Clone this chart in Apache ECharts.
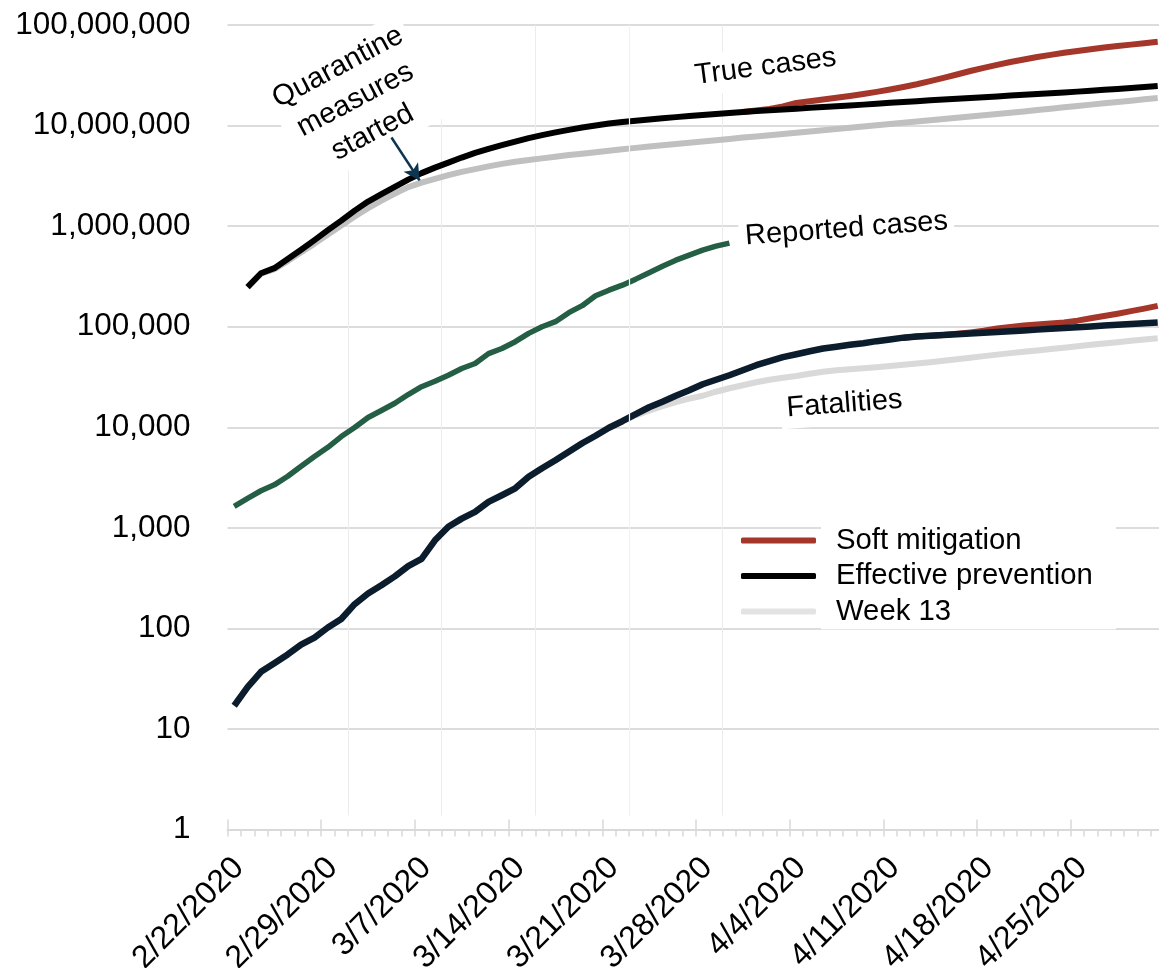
<!DOCTYPE html>
<html>
<head>
<meta charset="utf-8">
<script src="https://cdn.jsdelivr.net/npm/echarts@6/dist/echarts.min.js"></script>
<style>
html,body{margin:0;padding:0;background:#fff;}
#c{width:1159px;height:968px;}
</style>
</head>
<body>
<div id="c"></div>
<script>
// ---------- data ----------
const dates = [
 '2/22/2020','2/23/2020','2/24/2020','2/25/2020','2/26/2020','2/27/2020','2/28/2020','2/29/2020',
 '3/1/2020','3/2/2020','3/3/2020','3/4/2020','3/5/2020','3/6/2020','3/7/2020','3/8/2020','3/9/2020','3/10/2020',
 '3/11/2020','3/12/2020','3/13/2020','3/14/2020','3/15/2020','3/16/2020','3/17/2020','3/18/2020','3/19/2020','3/20/2020',
 '3/21/2020','3/22/2020','3/23/2020','3/24/2020','3/25/2020','3/26/2020','3/27/2020','3/28/2020','3/29/2020','3/30/2020','3/31/2020',
 '4/1/2020','4/2/2020','4/3/2020','4/4/2020','4/5/2020','4/6/2020','4/7/2020','4/8/2020','4/9/2020','4/10/2020',
 '4/11/2020','4/12/2020','4/13/2020','4/14/2020','4/15/2020','4/16/2020','4/17/2020','4/18/2020','4/19/2020','4/20/2020',
 '4/21/2020','4/22/2020','4/23/2020','4/24/2020','4/25/2020','4/26/2020','4/27/2020','4/28/2020','4/29/2020','4/30/2020','5/1/2020'
];
const tickLabels = ['2/22/2020','2/29/2020','3/7/2020','3/14/2020','3/21/2020','3/28/2020','4/4/2020','4/11/2020','4/18/2020','4/25/2020'];

// True cases
const trueEffective = [null,
 247000,340000,382000,470000,583000,726000,913000,1135000,1426000,1753000,
 2080000,2459000,2903000,3367000,3818000,4283000,4806000,5350000,5876000,6397000,
 6932000,7512000,8040000,8554000,9060000,9575000,10000000,10470000,10840000,11190000,
 11500000,11830000,12130000,12440000,12710000,13010000,13310000,13620000,13940000,14200000,
 14460000,14730000,15010000,15290000,15570000,15860000,16150000,16480000,16830000,17130000,
 17450000,17830000,18160000,18500000,18800000,19150000,19500000,19870000,20200000,20580000,
 20960000,21350000,21750000,22200000,22650000,23110000,23580000,24140000,24700000];
const trueSoft = [null,null,null,null,null,null,null,null,null,null,
 null,null,null,null,null,null,null,null,null,null,
 null,null,null,null,null,null,null,null,null,null,
 null,null,null,null,null,null,null,null,13620000,14100000,
 14660000,15530000,16750000,17460000,18140000,18870000,19660000,20580000,21640000,22810000,
 24160000,25770000,27710000,29840000,32170000,34860000,37520000,40170000,42850000,45370000,
 48060000,50500000,52880000,55120000,57460000,59610000,61700000,63830000,65900000,68050000];
const trueWeek13 = [null,
 247000,336000,373000,449000,551000,670000,823000,1012000,1244000,1511000,
 1794000,2106000,2443000,2710000,2957000,3215000,3460000,3690000,3925000,4159000,
 4364000,4537000,4717000,4906000,5085000,5252000,5436000,5627000,5811000,6001000,
 6184000,6372000,6550000,6751000,6955000,7150000,7367000,7590000,7800000,8020000,
 8250000,8480000,8740000,8980000,9250000,9510000,9800000,10070000,10350000,10660000,
 10960000,11290000,11610000,11960000,12300000,12660000,13010000,13410000,13810000,14270000,
 14700000,15180000,15640000,16150000,16630000,17170000,17690000,18270000,18820000];

// Reported cases
const reported = [1637,1966,2336,2677,3254,4090,5114,6322,8080,9930,
 12490,14690,17330,21150,25290,28680,32900,38370,43040,53960,
 60690,70940,85760,99800,112200,137800,161800,203400,230700,258700,
 297000,344600,399700,458900,514500,577200,632000,677400];

// Fatalities
const fatalEffective = [17,26,37,45,55,69,81,102,124,174,
 222,268,329,416,492,751,1023,1234,1438,1810,
 2106,2470,3215,3908,4695,5706,6930,8225,9890,11480,
 13470,15810,17940,20570,23350,26790,29700,32900,36900,41400,
 45400,49800,53200,57000,60700,63200,66200,68500,71800,74600,
 77800,79800,81100,82700,84200,85700,87100,88500,90200,91800,
 93500,95200,97000,98800,100600,102500,104400,106300,108300,110300];
const fatalSoft = [null,null,null,null,null,null,null,null,null,null,
 null,null,null,null,null,null,null,null,null,null,
 null,null,null,null,null,null,null,null,null,null,
 null,null,null,null,null,null,null,null,null,null,
 null,null,null,null,null,null,null,null,null,null,
 77800,79800,81100,82700,85000,87800,91200,95900,99500,102500,
 105000,107700,110300,114800,121100,127700,134700,142700,151100,161100];
const fatalWeek13 = [null,null,null,null,null,null,null,null,null,null,
 null,null,null,null,null,null,null,null,null,null,
 null,null,null,null,null,null,null,null,null,11480,
 13150,14590,16180,17740,19230,20570,22550,24430,26180,28050,
 29720,31120,32360,34070,35660,36900,37770,38650,39550,40650,
 41790,43060,44370,45930,47550,49200,50950,52730,54580,56280,
 58080,59940,61880,63960,66070,68040,70140,72290,74500,76770];

// ---------- layout / annotation config ----------
const FONT = '"Liberation Sans", Arial, Helvetica, sans-serif';
const vGridDays = [9, 16, 23, 30, 37];
const vGridTop = [3.6e6, 1.19e7, 1e8, 1e8, 1e8];
const vGridBottom = 1.38;
const arrowFrom = [12.25, 7.6e6];
const arrowTo = [14.35, 2.85e6];
const annotations = [
  {text: 'True cases', at: [40.2, 3.85e7], rot: 7.5},
  {text: 'Reported cases', at: [46.25, 9.4e5], rot: 4.3},
  {text: 'Fatalities', at: [46.1, 1.7e4], rot: 4.3},
  {text: 'Quarantine\nmeasures\nstarted', at: [9.55, 1.8e7], rot: 28}
];

// points sit in the middle of each day band
function pairs(arr) {
  const out = [];
  arr.forEach((v, i) => { if (v != null) out.push([i + 0.5, v]); });
  return out;
}
function lineSeries(name, arr, color, width) {
  return {
    type: 'line', name: name, data: pairs(arr), xAxisIndex: 0, yAxisIndex: 0,
    showSymbol: false, symbol: 'none', silent: true, z: 2,
    lineStyle: {color: color, width: width, cap: 'butt', join: 'round'},
    itemStyle: {color: color}
  };
}

const chart = echarts.init(document.getElementById('c'), null, {renderer: 'canvas'});
const gridBox = {left: 227.5, right: -5.4, top: 25, bottom: 138.5, containLabel: false, outerBoundsMode: 'none'};

const option = {
  animation: false,
  backgroundColor: '#fff',
  grid: [Object.assign({}, gridBox), Object.assign({}, gridBox)],
  xAxis: [
    {
      type: 'value', gridIndex: 0, min: 0, max: 70, interval: 7,
      axisLine: {show: true, lineStyle: {color: '#d9d9d9', width: 2}},
      axisTick: {show: true, length: 7, lineStyle: {color: '#d9d9d9', width: 1.5}},
      minorTick: {show: true, splitNumber: 7, length: 7, lineStyle: {color: '#d9d9d9', width: 1.5}},
      splitLine: {show: false},
      axisLabel: {
        show: true, rotate: 45, margin: 22, fontSize: 32, fontFamily: FONT, color: '#000',
        align: 'right', verticalAlign: 'top', padding: [0, 0, 0, 0],
        showMaxLabel: false,
        formatter: function (v) { const k = Math.round(v / 7); return tickLabels[k] || ''; }
      }
    },
    {
      type: 'value', gridIndex: 1, min: 0, max: 70, interval: 7,
      axisLine: {show: false},
      axisTick: {show: true, inside: true, length: 10, lineStyle: {color: '#d9d9d9', width: 1.5}},
      axisLabel: {show: false}, splitLine: {show: false}
    }
  ],
  yAxis: [
    {
      type: 'log', logBase: 10, gridIndex: 0, min: 1, max: 1e8, interval: 1, splitNumber: 8,
      axisLine: {show: false}, axisTick: {show: false},
      splitLine: {show: true, lineStyle: {color: '#dcdcdc', width: 2}},
      axisLabel: {
        fontSize: 31.5, fontFamily: FONT, color: '#000', margin: 37,
        formatter: function (v) { return Math.round(v).toLocaleString('en-US'); }
      }
    },
    {type: 'value', gridIndex: 1, show: false, min: 0, max: 1}
  ],
  legend: {
    orient: 'vertical', left: 741, top: 522.75, padding: 0,
    itemWidth: 75, itemHeight: 6, itemGap: 0, icon: 'roundRect', selectedMode: false,
    data: [
      {name: 'Soft mitigation', itemStyle: {color: '#a5372a', borderWidth: 0}},
      {name: 'Effective prevention', itemStyle: {color: '#000000', borderWidth: 0}},
      {name: 'Week 13', itemStyle: {color: '#e3e3e3', borderWidth: 0}}
    ],
    textStyle: {
      fontSize: 29.3, fontFamily: FONT, color: '#000', lineHeight: 32.5,
      backgroundColor: '#fff', padding: [0, 0, 3, 15], width: 280
    }
  },
  series: [
    // faint vertical grid lines
    {
      type: 'line', data: [], xAxisIndex: 0, yAxisIndex: 0, silent: true, z: 1,
      markLine: {
        silent: true, z: 1, symbol: 'none', label: {show: false}, animation: false,
        lineStyle: {color: '#ececec', width: 1, type: 'solid'},
        data: vGridDays.map((d, k) => [{coord: [d, vGridTop[k]]}, {coord: [d, vGridBottom]}])
      }
    },
    lineSeries('Week 13', trueWeek13, '#c0c0c0', 6),
    lineSeries('Soft mitigation', trueSoft, '#a5372a', 6),
    lineSeries('Effective prevention', trueEffective, '#000000', 6),
    lineSeries('Reported cases', reported, '#245e45', 5.5),
    lineSeries('Week 13', fatalWeek13, '#d9d9d9', 6),
    lineSeries('Soft mitigation', fatalSoft, '#a5372a', 6),
    lineSeries('Effective prevention', fatalEffective, '#0b1c2c', 6.5),
    // light line crossing over the series at 3/23
    {
      type: 'line', data: [], xAxisIndex: 0, yAxisIndex: 0, silent: true, z: 3,
      markLine: {
        silent: true, z: 3, symbol: 'none', label: {show: false}, animation: false,
        lineStyle: {color: '#f2f2f2', width: 1.2, type: 'solid'},
        data: [[{coord: [30, 1e8]}, {coord: [30, vGridBottom]}]]
      }
    },
    // arrow
    {
      type: 'line', data: [], xAxisIndex: 0, yAxisIndex: 0, silent: true, z: 6,
      markLine: {
        silent: true, z: 6, symbol: ['none', 'arrow'], symbolSize: [13, 16], label: {show: false}, animation: false,
        lineStyle: {color: '#0d3450', width: 2.5, type: 'solid'},
        data: [[{coord: arrowFrom}, {coord: arrowTo}]]
      }
    }
  ]
};
chart.setOption(option);

const graphics = annotations.map(a => {
  const p = chart.convertToPixel({xAxisIndex: 0, yAxisIndex: 0}, a.at);
  return {
    type: 'text', x: p[0], y: p[1], rotation: a.rot * Math.PI / 180, z: 1.5, silent: true,
    style: {
      text: a.text, x: 0, y: 0, fill: '#000', fontSize: 29, fontFamily: FONT,
      align: 'center', verticalAlign: 'middle', lineHeight: 37,
      backgroundColor: '#fff', padding: [2, 6]
    }
  };
});
chart.setOption({graphic: graphics});
</script>
</body>
</html>
